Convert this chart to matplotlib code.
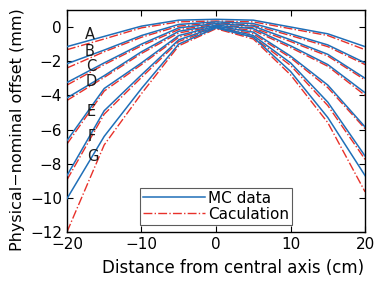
import matplotlib
matplotlib.use("Agg")
import matplotlib.pyplot as plt
import numpy as np

# distance from central axis (cm)
x = [-20, -15, -10, -5, 0, 5, 10, 15, 20]

# MC data, curves A..G
mc_A = [-1.15, -0.55, 0.05, 0.40, 0.45, 0.40, 0.00, -0.40, -1.15]
mc_B = [-2.15, -1.35, -0.50, 0.15, 0.30, 0.20, -0.40, -1.05, -2.10]
mc_C = [-3.25, -2.10, -1.00, -0.05, 0.20, 0.05, -0.75, -1.60, -3.00]
mc_D = [-4.15, -2.85, -1.45, -0.25, 0.10, -0.10, -1.10, -2.20, -3.85]
mc_E = [-6.65, -3.60, -2.10, -0.50, 0.05, -0.30, -1.70, -3.40, -5.85]
mc_F = [-8.70, -4.90, -2.80, -0.75, 0.00, -0.50, -2.10, -4.40, -7.55]
mc_G = [-10.05, -6.40, -3.60, -1.00, -0.05, -0.60, -2.60, -5.30, -8.70]

# calculation, curves A..G
ca_A = [-1.33, -0.70, -0.05, 0.30, 0.35, 0.30, -0.10, -0.50, -1.33]
ca_B = [-2.40, -1.45, -0.60, 0.05, 0.25, 0.10, -0.50, -1.15, -2.20]
ca_C = [-3.40, -2.20, -1.10, -0.15, 0.15, -0.05, -0.85, -1.70, -3.10]
ca_D = [-4.30, -2.95, -1.55, -0.35, 0.05, -0.20, -1.20, -2.30, -4.00]
ca_E = [-6.85, -3.75, -2.20, -0.60, 0.00, -0.40, -1.80, -3.55, -5.95]
ca_F = [-8.95, -5.10, -2.95, -0.85, -0.05, -0.60, -2.25, -4.60, -7.75]
ca_G = [-12.00, -6.90, -3.90, -1.10, -0.10, -0.70, -2.80, -5.60, -9.65]

mc = [mc_A, mc_B, mc_C, mc_D, mc_E, mc_F, mc_G]
ca = [ca_A, ca_B, ca_C, ca_D, ca_E, ca_F, ca_G]

curve_labels = ["A", "B", "C", "D", "E", "F", "G"]
label_x = [-16.9, -16.9, -16.7, -16.7, -16.8, -16.7, -16.5]
label_y = [-0.42, -1.45, -2.32, -3.18, -4.95, -6.40, -7.55]

blue = "#1f6fb8"
red = "#e8312a"

fig = plt.figure(figsize=(3.76, 2.83), dpi=100)
ax = fig.add_axes([0.178, 0.18, 0.793, 0.785])

for i in range(len(mc)):
    ax.plot(x, mc[i], color=blue, lw=1.1, label="MC data" if i == 0 else None, zorder=3)
    ax.plot(x, ca[i], color=red, lw=1.0, ls="-.", label="Caculation" if i == 0 else None, zorder=2)

for lab, lx, ly in zip(curve_labels, label_x, label_y):
    ax.text(lx, ly, lab, fontsize=10.5, ha="center", va="center", color="0.1", zorder=4)

ax.set_xlim(-20, 20)
ax.set_ylim(-12, 1)
ax.set_xticks([-20, -10, 0, 10, 20])
ax.set_yticks([-12, -10, -8, -6, -4, -2, 0])
ax.tick_params(direction="in", top=True, right=True, labelsize=11, length=4, width=0.8)
ax.set_xlabel("Distance from central axis (cm)", fontsize=12, labelpad=1)
ax.xaxis.set_label_coords(0.557, -0.12)
ax.set_ylabel("Physical\u2212nominal offset (mm)", fontsize=11.5, labelpad=0)
ax.yaxis.set_label_coords(-0.14, 0.46)
for s in ax.spines.values():
    s.set_linewidth(1.0)

leg = ax.legend(loc="lower center", bbox_to_anchor=(0.5, 0.02), fontsize=11,
                frameon=True, fancybox=False, handlelength=4.1, handletextpad=0.2,
                borderpad=0.2, labelspacing=0.05, borderaxespad=0.2)
leg.get_frame().set_edgecolor("0.2")
leg.get_frame().set_linewidth(0.8)

fig.savefig("out.png", dpi=100)
